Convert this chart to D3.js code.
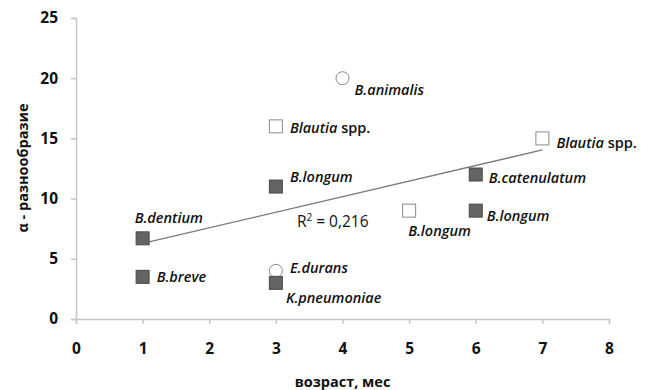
<!DOCTYPE html>
<html>
<head>
<meta charset="utf-8">
<script src="https://cdn.jsdelivr.net/npm/d3@7"></script>
<style>
  body { margin: 0; background: #fff; }
  svg text { font-family: "Open Sans", "DejaVu Sans", sans-serif; }
</style>
</head>
<body>
<div id="chart"></div>
<script>
// data
var ages = [1, 1, 3, 3, 3, 3, 4, 5, 6, 6, 7];
var diversity = [6.7, 3.5, 16, 11, 4, 3, 20, 9, 12, 9, 15];
var markerType = ["fill", "fill", "open", "fill", "circle", "fill", "circle", "open", "fill", "fill", "open"];
var names = ["B.dentium", "B.breve", "Blautia", "B.longum", "E.durans", "K.pneumoniae", "B.animalis", "B.longum", "B.catenulatum", "B.longum", "Blautia"];
var xTicks = [0, 1, 2, 3, 4, 5, 6, 7, 8];
var yTicks = [0, 5, 10, 15, 20, 25];
var r2Label = "0,216";

// label offsets from the marker (layout only)
var labelDx = [-8, 14, 14, 14, 14, 10, 12, -1, 13, 11, 14];
var labelDy = [-21, 0, 1, -10, -3, 15, 11, 20, 3, 5, 4];

var width = 653, height = 390;
var x = d3.scaleLinear().domain([0, 8]).range([76, 609]);
var y = d3.scaleLinear().domain([0, 25]).range([319, 18]);

var svg = d3.select("#chart").append("svg")
    .attr("width", width)
    .attr("height", height);

// axes
var xAxis = svg.append("g")
    .attr("transform", "translate(0," + y(0) + ")")
    .call(d3.axisBottom(x).tickValues(xTicks).tickSize(5).tickPadding(19));
var yAxis = svg.append("g")
    .attr("transform", "translate(" + x(0) + ",0)")
    .call(d3.axisLeft(y).tickValues(yTicks).tickSize(5).tickPadding(13));

[xAxis, yAxis].forEach(function(a) {
    a.selectAll("path, line").attr("stroke", "#c6c6c6").attr("stroke-width", 1.5);
    a.selectAll("text")
        .attr("fill", "#111")
        .style("font-size", "15.5px")
        .style("font-weight", "bold");
});

// axis titles
svg.append("text")
    .attr("x", x(4))
    .attr("y", 387)
    .attr("text-anchor", "middle")
    .style("font-size", "14.5px")
    .style("font-weight", "bold")
    .attr("fill", "#111")
    .text("возраст, мес");

svg.append("text")
    .attr("transform", "translate(28," + 168 + ") rotate(-90)")
    .attr("text-anchor", "middle")
    .style("font-size", "14.5px")
    .style("font-weight", "bold")
    .attr("fill", "#111")
    .text("α - разнообразие");

// linear trend (least squares over the points)
var n = ages.length;
var mx = d3.mean(ages), my = d3.mean(diversity);
var sxy = 0, sxx = 0;
for (var i = 0; i < n; i++) {
    sxy += (ages[i] - mx) * (diversity[i] - my);
    sxx += (ages[i] - mx) * (ages[i] - mx);
}
var slope = sxy / sxx;
var intercept = my - slope * mx;

svg.append("line")
    .attr("x1", x(1)).attr("y1", y(intercept + slope * 1))
    .attr("x2", x(7)).attr("y2", y(intercept + slope * 7))
    .attr("stroke", "#7a7a7a")
    .attr("stroke-width", 1.3);

var r2text = svg.append("text")
    .attr("x", x(3) + 21)
    .attr("y", y(7.6))
    .style("font-size", "15.5px")
    .attr("fill", "#111");
r2text.append("tspan").text("R");
r2text.append("tspan").attr("dy", -6).style("font-size", "10px").text("2");
r2text.append("tspan").attr("dy", 6).text(" = " + r2Label);

// points
var data = ages.map(function(a, i) {
    return { x: a, y: diversity[i], type: markerType[i], name: names[i], dx: labelDx[i], dy: labelDy[i] };
});

var pts = svg.selectAll(".pt")
    .data(data)
    .enter().append("g")
    .attr("class", "pt")
    .attr("transform", function(d) { return "translate(" + x(d.x) + "," + y(d.y) + ")"; });

pts.filter(function(d) { return d.type === "circle"; })
    .append("circle")
    .attr("r", 6.5)
    .attr("fill", "#fff")
    .attr("stroke", "#8a8a8a")
    .attr("stroke-width", 1);

pts.filter(function(d) { return d.type !== "circle"; })
    .append("rect")
    .attr("x", -6.5).attr("y", -6.5)
    .attr("width", 13).attr("height", 13)
    .attr("fill", function(d) { return d.type === "fill" ? "#646464" : "#fff"; })
    .attr("stroke", function(d) { return d.type === "fill" ? "#4a4a4a" : "#8a8a8a"; })
    .attr("stroke-width", 1);

// labels
var labels = pts.append("text")
    .attr("x", function(d) { return d.dx; })
    .attr("y", function(d) { return d.dy; })
    .attr("dominant-baseline", "central")
    .style("font-size", "14.5px")
    .style("font-weight", "600")
    .attr("fill", "#111");

labels.each(function(d) {
    var t = d3.select(this);
    if (d.name === "Blautia") {
        t.append("tspan").style("font-style", "italic").text("Blautia");
        t.append("tspan").text(" spp.");
    } else {
        t.style("font-style", "italic").text(d.name);
    }
});
</script>
</body>
</html>
